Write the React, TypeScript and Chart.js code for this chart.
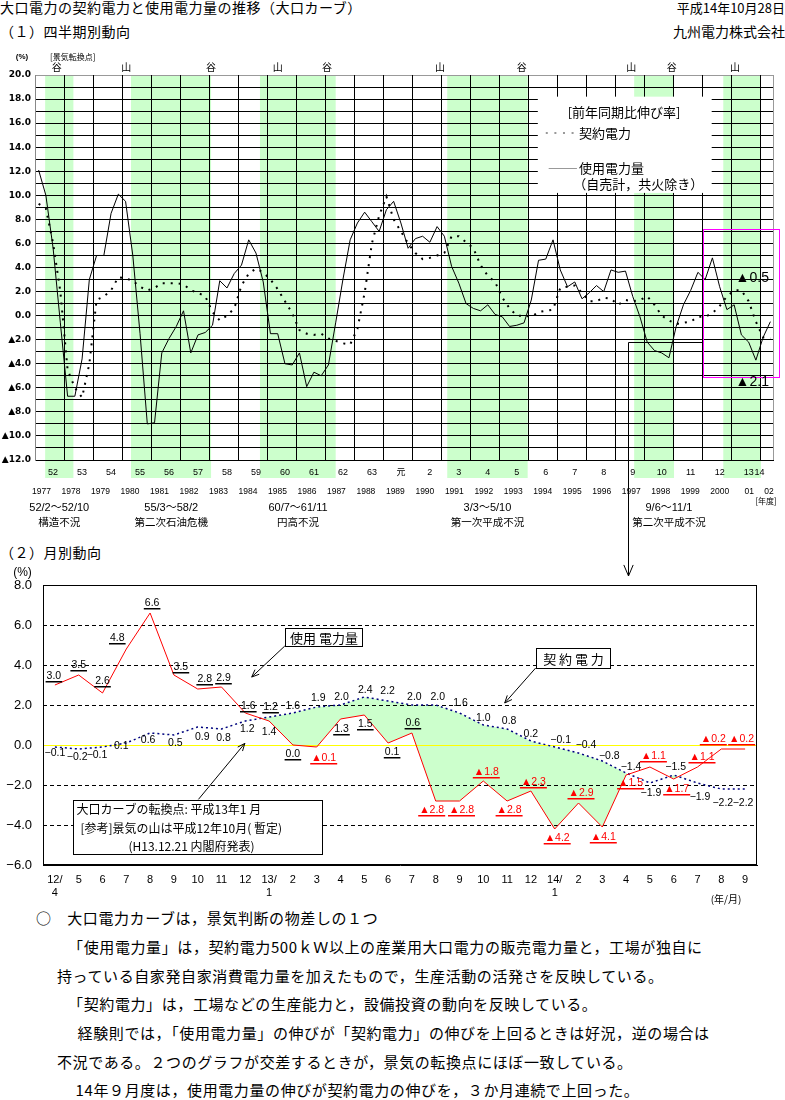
import React, { useEffect, useRef } from 'react';
import { Chart, registerables } from 'chart.js';

Chart.register(...registerables);

const CJK = '"Noto Sans CJK JP", "Noto Sans CJK SC", sans-serif';
const SANS = '"Liberation Sans", "DejaVu Sans", "Noto Sans CJK JP", sans-serif';

// ===== (1) 四半期別動向: 前年同期比伸び率 (%) — FY1977 Q1 … FY2002 Q2 =====
const quarterUsage: number[] = [
  12.1, 10.0, 5.6, -0.6, -6.7, -6.7, -3.6, 3.0,
  5.0, 5.0, 8.5, 10.1, 9.5, 5.0, -1.5, -9.0,
  -8.9, -3.1, -1.9, -0.9, 0.4, -3.1, -1.6, -1.4,
  -0.8, 2.9, 2.3, 3.5, 4.2, 6.3, 5.2, 2.8,
  -1.5, -1.5, -4.0, -4.1, -3.1, -5.9, -4.7, -5.0,
  -4.1, -0.6, 3.0, 6.3, 7.7, 8.6, 7.8, 7.0,
  8.8, 9.5, 7.7, 5.6, 6.4, 6.6, 6.1, 7.4,
  6.6, 4.1, 2.7, 1.0, 0.6, 0.4, 0.9, 0.1,
  -0.1, -0.9, -0.8, -0.6, 1.3, 4.6, 4.7, 6.3,
  3.8, 2.4, 2.8, 1.4, 1.9, 2.5, 2.0, 3.8,
  3.6, 3.7, 1.6, -0.1, -2.2, -2.9, -3.1, -3.5,
  -0.9, 0.9, 2.1, 3.6, 3.0, 4.8, 2.4, 0.5,
  0.9, -1.6, -2.2, -3.7, -1.8, -0.5,
];
const quarterContract: number[] = [
  9.3, 8.9, 6.0, 2.0, -4.5, -6.0, -6.8, -4.0,
  1.3, 1.6, 2.1, 3.2, 3.1, 2.9, 2.4, 2.1,
  2.3, 2.7, 2.7, 2.7, 2.6, 2.1, 1.9, 1.6,
  0.3, -0.4, 0.0, 0.6, 2.5, 3.5, 3.9, 3.6,
  3.0, 2.2, 1.2, 0.2, -1.2, -1.5, -1.6, -1.5,
  -1.9, -2.1, -2.3, -2.4, -1.1, 1.9, 6.0, 8.3,
  9.9, 8.0, 7.0, 6.0, 5.2, 4.7, 4.8, 5.0,
  5.2, 6.6, 6.6, 6.1, 5.6, 4.2, 3.3, 2.8,
  1.5, 0.6, 0.0, 0.0, -0.1, 0.3, 0.4, 0.5,
  2.3, 2.4, 2.5, 1.9, 1.2, 1.2, 1.5, 1.4,
  0.9, 1.3, 1.2, 1.3, 1.6, 0.9, 0.0, -0.4,
  -0.7, -0.6, -0.5, -0.1, -0.1, 0.2, 0.8, 1.6,
  2.1, 2.1, 1.2, -0.5, -1.8, -1.9,
];
const fiscalYearLabels = ['52', '53', '54', '55', '56', '57', '58', '59', '60', '61', '62', '63', '元',
  '2', '3', '4', '5', '6', '7', '8', '9', '10', '11', '12', '13', '14'];
const calendarYearLabels = ['1977', '1978', '1979', '1980', '1981', '1982', '1983', '1984', '1985', '1986',
  '1987', '1988', '1989', '1990', '1991', '1992', '1993', '1994', '1995', '1996', '1997', '1998', '1999',
  '2000', '01', '02'];
// recession bands (in quarter units from start of FY1977)
const recessionStart = [1.4, 13.25, 31.05, 56.9, 82.7, 95.0];
const recessionEnd = [5.3, 24.3, 41.5, 68.0, 88.2, 100.2];
const recessionPeriod = ['52/2～52/10', '55/3～58/2', '60/7～61/11', '3/3～5/10', '9/6～11/1', ''];
const recessionName = ['構造不況', '第二次石油危機', '円高不況', '第一次平成不況', '第二次平成不況', ''];
const recessionLabelAt = [3.35, 18.8, 36.3, 62.45, 87.5, 0];
const turningPointLabels = ['谷', '山', '谷', '山', '谷', '山', '谷', '山', '谷', '山'];
const turningPointAt = [3.0, 12.6, 24.3, 33.5, 40.3, 55.9, 67.2, 82.3, 87.9, 96.6];
const latestNotes = ['▲0.5', '▲2.1'];

// ===== (2) 月別動向 (%) — H12/4 … H14/9 =====
const monthLabels: (string | string[])[] = [['12/', '4'], '5', '6', '7', '8', '9', '10', '11', '12',
  ['13/', '1'], '2', '3', '4', '5', '6', '7', '8', '9', '10', '11', '12',
  ['14/', '1'], '2', '3', '4', '5', '6', '7', '8', '9'];
const monthUsage = [3.0, 3.5, 2.6, 4.8, 6.6, 3.5, 2.8, 2.9, 1.6, 1.2, 0.0, -0.1, 1.3, 1.5, 0.1, 0.6,
  -2.8, -2.8, -1.8, -2.8, -2.3, -4.2, -2.9, -4.1, -1.5, -1.1, -1.7, -1.1, -0.2, -0.2];
const monthContract = [-0.1, -0.2, -0.1, 0.1, 0.6, 0.5, 0.9, 0.8, 1.2, 1.4, 1.6, 1.9, 2.0, 2.4, 2.2, 2.0,
  2.0, 1.6, 1.0, 0.8, 0.2, -0.1, -0.4, -0.8, -1.4, -1.9, -1.5, -1.9, -2.2, -2.2];

// label placement offsets (px) — styling, not data
const usageLabelOffset = [[-1, -9], [0, -10], [0, -12], [-9, -11], [2, -10], [7, -8], [7, -10], [2, -9],
  [3, -7], [1.5, -14], [0, 9], [7, 11], [1, 10], [1, 9], [4, 9], [1, -10], [-4, 9], [2, 9], [3, -9],
  [2, 9], [2.5, -9], [2.5, 9], [2.5, -10], [1, 10], [4.5, 8], [3.5, -11], [3, 10], [4.5, -10], [-8, -10],
  [-3.5, -10]];
const contractLabelOffset = [[0, 6], [-1.5, 8], [-5.5, 8], [-5, 3], [-2, 7], [1.5, 8], [4.5, 10], [2, 9],
  [2, 8], [0, 15], [0, -7], [1.5, -9], [1, -8], [1, -7], [-0.5, -10], [2.5, -8], [2, -8], [1, -10],
  [0, -7], [2, -8], [0, -7], [6, -7], [7.5, -8], [7, -5], [5, -6], [1, 10], [2, -8], [2.5, 14],
  [1.5, 14], [-2, 14]];

const fmtTri = (v: number) => (v < 0 ? '▲' + Math.abs(v).toFixed(1) : v.toFixed(1));
const fmtMinus = (v: number) => (v < 0 ? '−' + Math.abs(v).toFixed(1) : v.toFixed(1));

function arrowHead(ctx: any, x1: number, y1: number, x2: number, y2: number, len = 8) {
  const a = Math.atan2(y2 - y1, x2 - x1);
  ctx.beginPath();
  ctx.moveTo(x2 - len * Math.cos(a - 0.4), y2 - len * Math.sin(a - 0.4));
  ctx.lineTo(x2, y2);
  ctx.lineTo(x2 - len * Math.cos(a + 0.4), y2 - len * Math.sin(a + 0.4));
  ctx.stroke();
}

function QuarterlyChart() {
  const ref = useRef<HTMLCanvasElement>(null);
  useEffect(() => {
    const canvas = ref.current!;
    const overlay = {
      id: 'quarterOverlay',
      beforeDraw(chart: any) {
        const { ctx, chartArea: a, scales: { x } } = chart;
        ctx.save();
        ctx.fillStyle = '#ccffcc';
        recessionStart.forEach((s, i) => {
          const x1 = x.getPixelForValue(s);
          const x2 = x.getPixelForValue(recessionEnd[i]);
          ctx.fillRect(x1, a.top, x2 - x1, a.bottom - a.top + 18);
        });
        ctx.restore();
      },
      beforeDatasetsDraw(chart: any) {
        const { ctx, chartArea: a, scales: { x, y } } = chart;
        ctx.save();
        ctx.lineWidth = 1;
        ctx.strokeStyle = '#000';
        for (let k = 1; k < fiscalYearLabels.length; k++) {
          const px = Math.round(x.getPixelForValue(4 * k)) + 0.5;
          ctx.beginPath();
          ctx.moveTo(px, a.top);
          ctx.lineTo(px, a.bottom);
          ctx.stroke();
        }
        ctx.strokeStyle = '#999';
        const rx = Math.round(a.right) - 0.5;
        ctx.beginPath();
        ctx.moveTo(rx, a.top);
        ctx.lineTo(rx, a.bottom);
        ctx.stroke();
        // legend box
        const lx1 = x.getPixelForValue(69.4), lx2 = x.getPixelForValue(93.4);
        const ly1 = y.getPixelForValue(18.2), ly2 = y.getPixelForValue(10.2);
        ctx.fillStyle = '#fff';
        ctx.fillRect(lx1, ly1, lx2 - lx1, ly2 - ly1);
        ctx.fillStyle = '#000';
        ctx.font = `13px ${CJK}`;
        ctx.textBaseline = 'middle';
        ctx.textAlign = 'center';
        ctx.fillText('[前年同期比伸び率]', x.getPixelForValue(81.3), y.getPixelForValue(16.92));
        ctx.textAlign = 'left';
        ctx.fillText('契約電力', x.getPixelForValue(75.1), y.getPixelForValue(15.17));
        ctx.fillText('使用電力量', x.getPixelForValue(75.1), y.getPixelForValue(12.26));
        ctx.fillText('（自売計，共火除き）', x.getPixelForValue(74.3), y.getPixelForValue(10.93));
        ctx.lineWidth = 2;
        ctx.setLineDash([2, 6.6]);
        ctx.beginPath();
        const dy = Math.round(y.getPixelForValue(15.17));
        ctx.moveTo(x.getPixelForValue(70.5), dy);
        ctx.lineTo(x.getPixelForValue(75.0), dy);
        ctx.stroke();
        ctx.setLineDash([]);
        ctx.lineWidth = 1;
        const sy = Math.round(y.getPixelForValue(12.26)) + 0.5;
        ctx.beginPath();
        ctx.moveTo(x.getPixelForValue(70.9), sy);
        ctx.lineTo(x.getPixelForValue(74.8), sy);
        ctx.stroke();
        ctx.restore();
      },
      afterDatasetsDraw(chart: any) {
        const { ctx, scales: { x, y } } = chart;
        ctx.save();
        // magenta highlight box
        const mx1 = Math.round(x.getPixelForValue(92.2)) + 0.5, mx2 = Math.round(x.getPixelForValue(102.7)) + 0.5;
        const my1 = Math.round(y.getPixelForValue(7.2)) + 0.5, my2 = Math.round(y.getPixelForValue(-5.1)) + 0.5;
        ctx.strokeStyle = '#ff00ff';
        ctx.lineWidth = 1;
        ctx.strokeRect(mx1, my1, mx2 - mx1, my2 - my1);
        // connector to monthly chart
        ctx.strokeStyle = '#000';
        const cx = Math.round(x.getPixelForValue(81.85)) + 0.5;
        const cy = Math.round(y.getPixelForValue(-2.2)) + 0.5;
        ctx.beginPath();
        ctx.moveTo(mx1 - 1, cy);
        ctx.lineTo(cx, cy);
        ctx.lineTo(cx, chart.height - 4);
        ctx.stroke();
        arrowHead(ctx, cx, cy, cx, chart.height - 4, 12);
        // latest notes
        ctx.fillStyle = '#000';
        ctx.font = `14px ${SANS}`;
        ctx.textAlign = 'center';
        ctx.textBaseline = 'middle';
        ctx.fillText(latestNotes[0], x.getPixelForValue(99.0), y.getPixelForValue(3.13));
        ctx.fillText(latestNotes[1], x.getPixelForValue(99.0), y.getPixelForValue(-5.52));
        ctx.restore();
      },
      afterDraw(chart: any) {
        const { ctx, chartArea: a, scales: { x } } = chart;
        ctx.save();
        ctx.fillStyle = '#000';
        ctx.textAlign = 'center';
        ctx.textBaseline = 'middle';
        ctx.font = `9px ${SANS}`;
        fiscalYearLabels.forEach((t, k) =>
          ctx.fillText(t, x.getPixelForValue(Math.min(4 * k + 2.5, 100)), a.bottom + 13));
        ctx.font = `8.5px ${SANS}`;
        calendarYearLabels.forEach((t, k) =>
          ctx.fillText(t, x.getPixelForValue(Math.min(0.9 + 4.07 * k, 101.3)), a.bottom + 32));
        ctx.font = `11px ${SANS}`;
        recessionPeriod.forEach((t, i) => {
          if (t) ctx.fillText(t, x.getPixelForValue(recessionLabelAt[i]), a.bottom + 48);
        });
        ctx.font = `10.5px ${CJK}`;
        recessionName.forEach((t, i) => {
          if (t) ctx.fillText(t, x.getPixelForValue(recessionLabelAt[i]), a.bottom + 62);
        });
        ctx.font = `8px ${CJK}`;
        ctx.fillText('[年度]', x.getPixelForValue(100.9), a.bottom + 41);
        ctx.font = `10px ${CJK}`;
        turningPointLabels.forEach((t, i) => ctx.fillText(t, x.getPixelForValue(turningPointAt[i]), a.top - 8));
        ctx.font = `bold 8px ${SANS}`;
        ctx.fillText('(%)', a.left - 13, a.top - 18);
        ctx.textAlign = 'left';
        ctx.font = `8px ${CJK}`;
        ctx.fillText('[景気転換点]', a.left + 15, a.top - 18);
        ctx.restore();
      },
    };
    const chart = new Chart(canvas, {
      type: 'line',
      data: {
        datasets: [
          {
            label: '使用電力量',
            data: quarterUsage.map((v, i) => ({ x: i + 0.5, y: v })),
            borderColor: '#000',
            borderWidth: 1,
            pointRadius: 0,
            fill: false,
            tension: 0,
          },
          {
            label: '契約電力',
            data: quarterContract.map((v, i) => ({ x: i + 0.5, y: v })),
            borderColor: '#000',
            borderWidth: 2,
            borderDash: [2, 6],
            pointRadius: 0,
            fill: false,
            tension: 0,
          },
        ],
      },
      options: {
        responsive: false,
        animation: false,
        devicePixelRatio: 1,
        events: [],
        layout: { padding: { left: 0, right: 11, top: 30, bottom: 120 } },
        plugins: { legend: { display: false }, tooltip: { enabled: false } },
        scales: {
          x: { type: 'linear', min: 0, max: quarterUsage.length, display: false },
          y: {
            min: -12,
            max: 20,
            afterFit: (s: any) => { s.width = 35; },
            ticks: {
              stepSize: 1,
              maxTicksLimit: 100,
              autoSkip: false,
              padding: 4,
              color: '#000',
              font: { family: '"DejaVu Sans"', size: 9, weight: 'bold' },
              callback: (v: any) => (Math.round(v) % 2 === 0 ? fmtTri(Number(v)) : ''),
            },
            grid: {
              color: (c: any) => (c.tick && c.tick.value === 20 ? '#999' : '#000'),
              lineWidth: 1,
              drawTicks: false,
            },
            border: { color: '#888' },
          },
        },
      } as any,
      plugins: [overlay],
    });
    return () => chart.destroy();
  }, []);
  return (
    <canvas ref={ref} width={785} height={535}
      style={{ position: 'absolute', left: 0, top: 45, width: 785, height: 535 }} />
  );
}

function MonthlyChart() {
  const ref = useRef<HTMLCanvasElement>(null);
  useEffect(() => {
    const canvas = ref.current!;
    const overlay = {
      id: 'monthOverlay',
      beforeDatasetsDraw(chart: any) {
        const { ctx, chartArea: a, scales: { y } } = chart;
        ctx.save();
        ctx.lineWidth = 1;
        y.ticks.forEach((t: any) => {
          const v = t.value;
          if (v === y.min || v === y.max) return;
          const py = Math.round(y.getPixelForValue(v)) + 0.5;
          if (v === 0) { ctx.strokeStyle = '#ffff00'; ctx.setLineDash([]); }
          else { ctx.strokeStyle = '#000'; ctx.setLineDash([4, 3]); }
          ctx.beginPath();
          ctx.moveTo(a.left, py);
          ctx.lineTo(a.right, py);
          ctx.stroke();
        });
        ctx.restore();
      },
      afterDatasetsDraw(chart: any) {
        const { ctx, chartArea: a, scales: { x, y } } = chart;
        const P = (i: number, v: number) => [x.getPixelForValue(i), y.getPixelForValue(v)];
        ctx.save();
        ctx.strokeStyle = '#000';
        ctx.lineWidth = 1;
        ctx.strokeRect(Math.round(a.left) + 0.5, Math.round(a.top) + 0.5,
          Math.round(a.right - a.left) - 1, Math.round(a.bottom - a.top) - 1);
        // value labels
        ctx.textAlign = 'center';
        ctx.textBaseline = 'middle';
        ctx.font = `10.5px ${SANS}`;
        const red = chart.getDatasetMeta(0).data;
        const blue = chart.getDatasetMeta(1).data;
        monthContract.forEach((v, i) => {
          const p = blue[i];
          const [dx, dy] = contractLabelOffset[i];
          ctx.fillStyle = '#000';
          ctx.fillText(fmtMinus(v), p.x + dx, p.y + dy);
        });
        monthUsage.forEach((v, i) => {
          const p = red[i];
          const [dx, dy] = usageLabelOffset[i];
          const txt = fmtTri(v);
          const cx = p.x + dx, cy = p.y + dy;
          ctx.fillStyle = v < 0 ? '#ff0000' : '#000';
          ctx.fillText(txt, cx, cy);
          const w = ctx.measureText(txt).width;
          ctx.fillRect(cx - w / 2 - 1, Math.round(cy + 5), w + 2, 1.5);
        });
        // call-out boxes
        const box = (x1: number, v1: number, x2: number, v2: number) => {
          const [px1, py1] = P(x1, v1);
          const [px2, py2] = P(x2, v2);
          const l = Math.round(px1) + 0.5, t = Math.round(py1) + 0.5;
          const w = Math.round(px2 - px1), h = Math.round(py2 - py1);
          ctx.fillStyle = '#fff';
          ctx.fillRect(l, t, w, h);
          ctx.strokeStyle = '#000';
          ctx.strokeRect(l, t, w, h);
          return [l, t, w, h];
        };
        const line = (f: number[], tt: number[]) => {
          const [x1, y1] = P(f[0], f[1]);
          const [x2, y2] = P(tt[0], tt[1]);
          ctx.strokeStyle = '#000';
          ctx.beginPath();
          ctx.moveTo(x1, y1);
          ctx.lineTo(x2, y2);
          ctx.stroke();
          arrowHead(ctx, x1, y1, x2, y2, 8);
        };
        line([9.66, 4.95], [8.27, 3.4]);
        line([20.2, 3.85], [18.9, 2.1]);
        line([6.03, -2.72], [7.98, 0.08]);
        ctx.font = `13px ${CJK}`;
        let [l, t, w, h] = box(9.66, 5.85, 12.9, 4.95);
        ctx.fillStyle = '#000';
        ctx.fillText('使用 電力量', l + w / 2, t + h / 2 + 0.5);
        [l, t, w, h] = box(20.2, 4.85, 23.3, 3.85);
        ctx.fillStyle = '#000';
        ctx.fillText('契 約 電 力', l + w / 2, t + h / 2 + 0.5);
        [l, t, w, h] = box(0.74, -2.75, 11.2, -5.47);
        ctx.fillStyle = '#000';
        ctx.textAlign = 'left';
        ctx.font = `12px ${CJK}`;
        ctx.fillText('大口カーブの転換点: 平成13年1 月', l + 3, t + 9);
        ctx.fillText('[参考]景気の山は平成12年10月( 暫定)', l + 7, t + 27.5);
        ctx.fillText('(H13.12.21 内閣府発表)', l + 55, t + 46);
        // axis captions
        ctx.textAlign = 'center';
        ctx.font = `12px ${SANS}`;
        ctx.fillText('(%)', a.left - 20.5, a.top - 12);
        ctx.font = `10px ${CJK}`;
        ctx.fillText('(年/月)', a.right - 31, a.bottom + 34);
        ctx.restore();
      },
    };
    const chart = new Chart(canvas, {
      type: 'line',
      data: {
        labels: monthLabels,
        datasets: [
          {
            label: '使用電力量',
            data: monthUsage,
            borderColor: '#ff0000',
            borderWidth: 1,
            pointRadius: 0,
            tension: 0,
            fill: { target: 1, above: 'rgba(0,0,0,0)', below: '#ccffcc' },
          },
          {
            label: '契約電力',
            data: monthContract,
            borderColor: '#000080',
            borderWidth: 1.5,
            borderDash: [2, 3],
            pointRadius: 0,
            tension: 0,
            fill: false,
          },
        ],
      },
      options: {
        responsive: false,
        animation: false,
        devicePixelRatio: 1,
        events: [],
        layout: { padding: { left: 0, right: 28, top: 25, bottom: 0 } },
        plugins: {
          legend: { display: false },
          tooltip: { enabled: false },
          filler: { drawTime: 'beforeDatasetsDraw' },
        },
        scales: {
          x: {
            type: 'category',
            offset: true,
            afterFit: (s: any) => { s.height = 45; },
            grid: { display: false, drawTicks: false },
            border: { display: true, color: '#000' },
            ticks: {
              autoSkip: false,
              maxRotation: 0,
              padding: 8,
              color: '#000',
              font: { family: '"Liberation Sans"', size: 11 },
            },
          },
          y: {
            min: -6,
            max: 8,
            afterFit: (s: any) => { s.width = 43; },
            grid: { display: false, drawTicks: false },
            border: { display: true, color: '#000' },
            ticks: {
              stepSize: 2,
              padding: 11,
              color: '#000',
              font: { family: '"Liberation Sans"', size: 13 },
              callback: (v: any) => fmtMinus(Number(v)),
            },
          },
        },
      } as any,
      plugins: [overlay],
    });
    return () => chart.destroy();
  }, []);
  return (
    <canvas ref={ref} width={785} height={350}
      style={{ position: 'absolute', left: 0, top: 560, width: 785, height: 350 }} />
  );
}

function T(props: { x?: number; right?: number; y: number; size: number; ls?: number; children: any }) {
  const { x, right, y, size, ls, children } = props;
  const style: any = {
    position: 'absolute',
    top: y - size * 0.65,
    fontSize: size,
    lineHeight: `${Math.round(size * 1.3)}px`,
    letterSpacing: ls ? `${ls}px` : undefined,
    whiteSpace: 'pre',
    fontFamily: CJK,
    color: '#000',
  };
  if (right !== undefined) style.right = right; else style.left = x;
  return <div style={style}>{children}</div>;
}

const notes = [
  { x: 36, text: '○　大口電力カーブは，景気判断の物差しの１つ' },
  { x: 60, text: '　「使用電力量」は，契約電力500ｋＷ以上の産業用大口電力の販売電力量と，工場が独自に' },
  { x: 57, text: '持っている自家発自家消費電力量を加えたもので，生産活動の活発さを反映している。' },
  { x: 60, text: '　「契約電力」は，工場などの生産能力と，設備投資の動向を反映している。' },
  { x: 62, text: '　経験則では，「使用電力量」の伸びが「契約電力」の伸びを上回るときは好況，逆の場合は' },
  { x: 57, text: '不況である。２つのグラフが交差するときが，景気の転換点にほぼ一致している。' },
  { x: 60, text: '　14年９月度は，使用電力量の伸びが契約電力の伸びを，３か月連続で上回った。' },
];

export default function App() {
  return (
    <div style={{ position: 'absolute', left: 0, top: 0, width: 785, height: 1100, background: '#fff', overflow: 'hidden' }}>
      <T x={0} y={7} size={14} ls={0.5}>大口電力の契約電力と使用電力量の推移（大口カーブ）</T>
      <T right={0} y={7} size={13}>平成14年10月28日</T>
      <T x={0} y={31} size={14} ls={0.5}>（１）四半期別動向</T>
      <T right={0} y={31} size={14}>九州電力株式会社</T>
      <T x={0} y={552} size={14} ls={0.5}>（２）月別動向</T>
      {notes.map((n, i) => (
        <T key={i} x={n.x} y={918 + 28.7 * i} size={15} ls={0.6}>{n.text}</T>
      ))}
      <QuarterlyChart />
      <MonthlyChart />
    </div>
  );
}
